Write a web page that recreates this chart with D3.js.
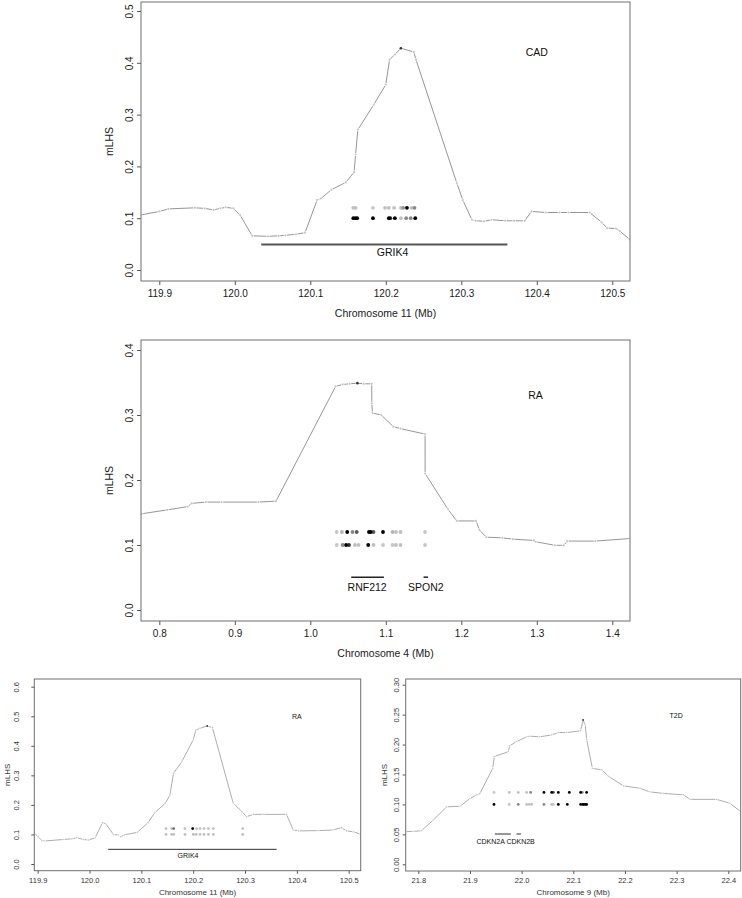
<!DOCTYPE html>
<html><head><meta charset="utf-8">
<script src="https://cdn.jsdelivr.net/npm/d3@7"></script>
<style>
html,body{margin:0;padding:0;background:#fff;}
svg{display:block;font-family:"Liberation Sans",Arial,Helvetica,sans-serif;}
</style></head>
<body><svg id="chart" width="742" height="898"></svg>
<script>
// ---------- DATA ----------
const rowLevels = [0.12, 0.10];

// Panel 1: CAD, chromosome 11
const cadPos = [119.875,119.9,119.912,119.947,119.96,119.972,119.981,119.988,119.998,120.007,120.023,120.044,120.058,120.067,120.081,120.093,120.109,120.114,120.128,120.147,120.158,120.160,120.163,120.184,120.200,120.205,120.212,120.220,120.237,120.240,120.294,120.302,120.314,120.319,120.330,120.340,120.358,120.370,120.384,120.393,120.412,120.430,120.442,120.470,120.486,120.493,120.505,120.510,120.523];
const cadLhs = [0.106,0.113,0.118,0.120,0.119,0.116,0.119,0.121,0.119,0.106,0.066,0.065,0.066,0.067,0.069,0.072,0.135,0.138,0.155,0.169,0.189,0.223,0.271,0.319,0.358,0.406,0.416,0.428,0.421,0.406,0.168,0.135,0.097,0.095,0.094,0.097,0.095,0.095,0.095,0.113,0.111,0.111,0.111,0.111,0.092,0.081,0.080,0.075,0.059];
const cadUpperPos = [120.157,120.160,120.183,120.199,120.204,120.211,120.220,120.223,120.228,120.234,120.238];
const cadUpperW   = [0.15,0.15,0.12,0.15,0.15,0.15,0.15,0.35,1,0.15,0.4];
const cadLowerPos = [120.157,120.160,120.162,120.183,120.204,120.206,120.212,120.220,120.227,120.233,120.239];
const cadLowerW   = [1,1,1,1,1,0.8,1,0.15,0.4,0.4,1];
const cadGenes = ["GRIK4"], cadGeneStart = [120.035], cadGeneEnd = [120.361], cadGeneLabelX = [120.209];
const cadXTicks = [119.9,120.0,120.1,120.2,120.3,120.4,120.5];
const cadYTicks = [0,0.1,0.2,0.3,0.4,0.5];

// Panel 2: RA, chromosome 4
const ra4Pos = [0.7766,0.8105,0.8374,0.843,0.8616,0.8825,0.9313,0.9546,1.0335,1.0428,1.0520,1.0624,1.0707,1.0814,1.0815,1.0824,1.0939,1.1102,1.1195,1.1520,1.1521,1.1823,1.1940,1.2196,1.2240,1.2333,1.2543,1.2682,1.2962,1.2985,1.3240,1.3357,1.3403,1.3775,1.4240];
const ra4Lhs = [0.148,0.154,0.159,0.164,0.166,0.166,0.166,0.1675,0.344,0.347,0.348,0.349,0.348,0.348,0.318,0.303,0.300,0.282,0.279,0.2706,0.210,0.155,0.137,0.137,0.123,0.112,0.111,0.109,0.107,0.105,0.0995,0.0995,0.106,0.106,0.110];
const ra4UpperPos = [1.0350,1.0419,1.0489,1.0559,1.0615,1.0777,1.0800,1.0837,1.0963,1.1089,1.1135,1.1195,1.1520];
const ra4UpperW   = [0.12,0.2,1,0.4,0.6,1,1,0.6,1,0.2,0.15,0.15,0.12];
const ra4LowerPos = [1.0350,1.0428,1.0474,1.0512,1.0591,1.0638,1.0767,1.0837,1.0963,1.1089,1.1135,1.1195,1.1520];
const ra4LowerW   = [0.12,0.4,1,0.8,0.15,0.15,1,0.15,0.12,0.12,0.15,0.15,0.12];
const ra4Genes = ["RNF212","SPON2"], ra4GeneStart = [1.0542,1.150], ra4GeneEnd = [1.0975,1.156], ra4GeneLabelX = [1.0753,1.153];
const ra4XTicks = [0.8,0.9,1.0,1.1,1.2,1.3,1.4];
const ra4YTicks = [0,0.1,0.2,0.3,0.4];

// Panel 3: RA, chromosome 11
const ra11Pos = [119.8936,119.901,119.908,119.914,119.950,119.966,119.975,119.988,119.998,120.011,120.025,120.032,120.046,120.056,120.060,120.068,120.092,120.113,120.126,120.146,120.155,120.162,120.178,120.200,120.205,120.213,120.227,120.237,120.277,120.294,120.303,120.316,120.335,120.380,120.393,120.403,120.441,120.470,120.486,120.496,120.509,120.523];
const ra11Lhs = [0.104,0.092,0.079,0.078,0.083,0.085,0.089,0.083,0.081,0.089,0.140,0.135,0.100,0.098,0.092,0.099,0.107,0.140,0.174,0.205,0.233,0.307,0.346,0.420,0.453,0.459,0.467,0.462,0.207,0.177,0.160,0.168,0.168,0.168,0.115,0.112,0.113,0.115,0.123,0.112,0.109,0.101];
const ra11UpperPos = [120.1476,120.1585,120.1624,120.1842,120.199,120.2067,120.2132,120.2209,120.2293,120.2389,120.2955];
const ra11UpperW   = [0.15,0.15,0.5,0.15,1,0.15,0.15,0.15,0.15,0.15,0.15];
const ra11LowerPos = [120.1476,120.1585,120.1624,120.1842,120.2003,120.2055,120.2132,120.2209,120.2293,120.2389,120.2955];
const ra11LowerW   = [0.15,0.15,0.15,0.15,0.18,0.15,0.15,0.15,0.15,0.15,0.15];
const ra11Genes = ["GRIK4"], ra11GeneStart = [120.036], ra11GeneEnd = [120.361], ra11GeneLabelX = [120.190];
const ra11XTicks = [119.9,120.0,120.1,120.2,120.3,120.4,120.5];
const ra11YTicks = [0,0.1,0.2,0.3,0.4,0.5,0.6];

// Panel 4: T2D, chromosome 9
const t2dPos = [21.7755,21.790,21.806,21.829,21.855,21.881,21.900,21.913,21.919,21.944,21.947,21.974,21.977,21.990,22.010,22.016,22.035,22.058,22.071,22.087,22.114,22.119,22.123,22.126,22.137,22.155,22.168,22.197,22.229,22.248,22.274,22.313,22.326,22.377,22.403,22.424];
const t2dLhs = [0.0545,0.055,0.056,0.074,0.096,0.097,0.110,0.116,0.118,0.160,0.180,0.188,0.198,0.205,0.213,0.214,0.213,0.216,0.220,0.220,0.223,0.241,0.233,0.208,0.160,0.158,0.147,0.131,0.127,0.121,0.1185,0.116,0.1085,0.1085,0.102,0.088];
const t2dUpperPos = [21.9465,21.9761,21.9935,22.0097,22.0174,22.0432,22.0581,22.0613,22.0710,22.0923,22.1142,22.1174,22.1258];
const t2dUpperW   = [0.12,0.15,0.15,0.15,0.4,1,1,0.7,1,1,1,0.4,1];
const t2dLowerPos = [21.9465,21.9761,21.9935,22.0097,22.0148,22.0194,22.0432,22.0581,22.0613,22.0710,22.0884,22.1142,22.1181,22.1206,22.1239,22.1258];
const t2dLowerW   = [1,0.15,0.4,0.15,0.15,0.15,0.4,0.15,0.15,1,1,1,1,1,1,1];
const t2dGenes = ["CDKN2A","CDKN2B"], t2dGeneStart = [21.948,21.990], t2dGeneEnd = [21.979,21.999], t2dGeneLabelX = [21.940,21.998];
const t2dXTicks = [21.8,21.9,22.0,22.1,22.2,22.3,22.4];
const t2dYTicks = [0,0.05,0.10,0.15,0.20,0.25,0.30];

// ---------- DRAWING ----------
const svg = d3.select("#chart");
const shade = d3.scaleLinear().domain([0,1]).range(["#e2e2e2","#000000"]);

function drawPanel(p, id) {
  const x = d3.scaleLinear().domain(p.xAnchor).range(p.xPix);
  const y = d3.scaleLinear().domain(p.yAnchor).range(p.yPix);
  const b = p.box;
  const g = svg.append("g");
  svg.append("clipPath").attr("id", "clip" + id)
    .append("rect").attr("x", b.l).attr("y", b.t).attr("width", b.r - b.l).attr("height", b.b - b.t);
  const inner = g.append("g").attr("clip-path", `url(#clip${id})`);

  // mLHS line drawn R "type=b" style: segments with gaps around points
  const pts = p.pos.map((v, i) => [v, p.lhs[i]]);
  const segs = d3.pairs(pts).map(([a, c]) => {
    const x1 = x(a[0]), y1 = y(a[1]), x2 = x(c[0]), y2 = y(c[1]);
    const len = Math.hypot(x2 - x1, y2 - y1);
    return {x1, y1, x2, y2, len};
  }).filter(s => s.len > 2 * p.gap + 0.5).map(s => {
    const ux = (s.x2 - s.x1) / s.len, uy = (s.y2 - s.y1) / s.len;
    return {x1: s.x1 + ux * p.gap, y1: s.y1 + uy * p.gap, x2: s.x2 - ux * p.gap, y2: s.y2 - uy * p.gap};
  });
  inner.selectAll("line.seg").data(segs).join("line")
    .attr("x1", d => d.x1).attr("y1", d => d.y1).attr("x2", d => d.x2).attr("y2", d => d.y2)
    .attr("stroke", "#8a8a8a").attr("stroke-width", p.lineW);
  const maxV = d3.max(p.lhs);
  inner.selectAll("circle.pt").data(pts).join("circle")
    .attr("cx", d => x(d[0])).attr("cy", d => y(d[1]))
    .attr("r", d => d[1] === maxV ? p.ptR * 1.2 : p.ptR)
    .attr("fill", d => d[1] === maxV ? "#333" : "#c4c4c4");

  // dot rows
  const rows = [[p.upPos, p.upW, rowLevels[0]], [p.loPos, p.loW, rowLevels[1]]];
  rows.forEach(([ps, ws, lv]) => {
    const dd = ps.map((v, i) => ({x: v, w: ws[i]})).sort((a, c) => a.w - c.w);
    inner.selectAll(null).data(dd).join("circle")
      .attr("cx", d => x(d.x)).attr("cy", y(lv)).attr("r", p.dotR)
      .attr("fill", d => shade(d.w));
  });

  // genes
  p.genes.forEach((name, i) => {
    g.append("line")
      .attr("x1", x(p.gStart[i])).attr("x2", x(p.gEnd[i]))
      .attr("y1", y(p.geneY)).attr("y2", y(p.geneY))
      .attr("stroke", p.geneColor).attr("stroke-width", p.geneW);
    g.append("text").attr("x", x(p.gLabelX[i])).attr("y", y(p.geneLabelY))
      .attr("dy", "0.35em").attr("text-anchor", "middle")
      .attr("font-size", p.labelFs).attr("fill", "#111").text(name);
  });

  // disease label
  g.append("text").attr("x", x(p.tag[1])).attr("y", y(p.tag[2]))
    .attr("dy", "0.35em").attr("text-anchor", "middle")
    .attr("font-size", p.labelFs).attr("fill", "#111").text(p.tag[0]);

  // x axis
  const xa = g.append("g").attr("transform", `translate(0,${b.b})`)
    .call(d3.axisBottom(x).tickValues(p.xTicks).tickFormat(d3.format(".1f"))
      .tickSize(p.tickLen).tickPadding(p.xPad));
  xa.select(".domain").remove();
  xa.attr("font-family", null);
  xa.selectAll("line").attr("stroke", "#555");
  xa.selectAll("text").attr("font-size", p.tickFs).attr("fill", p.textCol);

  // y axis
  const ya = g.append("g").attr("transform", `translate(${b.l},0)`)
    .call(d3.axisLeft(y).tickValues(p.yTicks).tickFormat(d3.format(p.yFmt)).tickSize(p.tickLen));
  ya.select(".domain").remove();
  ya.attr("font-family", null);
  ya.selectAll("line").attr("stroke", "#555");
  ya.selectAll("text").attr("transform", "rotate(-90)")
    .attr("x", 0).attr("y", -p.yLabDist).attr("dy", "0.35em")
    .attr("text-anchor", "middle").attr("font-size", p.tickFs).attr("fill", p.textCol);

  // frame
  g.append("rect").attr("x", b.l).attr("y", b.t).attr("width", b.r - b.l).attr("height", b.b - b.t)
    .attr("fill", "none").attr("stroke", "#6e6e6e").attr("stroke-width", 1);

  // axis titles
  g.append("text").attr("x", (b.l + b.r) / 2).attr("y", p.xTitleY).attr("dy", "0.35em")
    .attr("text-anchor", "middle").attr("font-size", p.titleFs).attr("fill", p.textCol).text(p.xTitle);
  g.append("text").attr("transform", `translate(${p.yTitleX},${(b.t + b.b) / 2}) rotate(-90)`)
    .attr("dy", "0.35em").attr("text-anchor", "middle")
    .attr("font-size", p.titleFs).attr("fill", p.textCol).text("mLHS");
}

const big = {lineW: 0.9, ptR: 1.1, gap: 1.6, dotR: 1.9, geneW: 2, geneColor: "#555", labelFs: 10.5, tickFs: 10, titleFs: 10.5,
             tickLen: 4, xPad: 5, yLabDist: 12, yFmt: ".1f", textCol: "#1a1a1a"};
const small = {lineW: 0.7, ptR: 0.8, gap: 1.2, dotR: 1.4, geneW: 1, geneColor: "#333", labelFs: 7, tickFs: 7.5, titleFs: 8,
             tickLen: 3, xPad: 4, textCol: "#333"};

drawPanel(Object.assign({}, big, {
  box: {l: 141, r: 630, t: 2, b: 281},
  xAnchor: [119.9, 120.5], xPix: [159.3, 612.3], yAnchor: [0, 0.5], yPix: [270, 11],
  pos: cadPos, lhs: cadLhs, upPos: cadUpperPos, upW: cadUpperW, loPos: cadLowerPos, loW: cadLowerW,
  genes: cadGenes, gStart: cadGeneStart, gEnd: cadGeneEnd, gLabelX: cadGeneLabelX, geneY: 0.049, geneLabelY: 0.034,
  tag: ["CAD", 120.40, 0.42], xTicks: cadXTicks, yTicks: cadYTicks,
  xTitle: "Chromosome 11 (Mb)", xTitleY: 313, yTitleX: 109
}), 1);

drawPanel(Object.assign({}, big, {
  geneColor: "#222", geneW: 1.5,
  box: {l: 141, r: 630, t: 340, b: 621},
  xAnchor: [0.8, 1.4], xPix: [159.3, 612.3], yAnchor: [0, 0.4], yPix: [610, 350],
  pos: ra4Pos, lhs: ra4Lhs, upPos: ra4UpperPos, upW: ra4UpperW, loPos: ra4LowerPos, loW: ra4LowerW,
  genes: ra4Genes, gStart: ra4GeneStart, gEnd: ra4GeneEnd, gLabelX: ra4GeneLabelX, geneY: 0.0505, geneLabelY: 0.035,
  tag: ["RA", 1.2984, 0.33], xTicks: ra4XTicks, yTicks: ra4YTicks,
  xTitle: "Chromosome 4 (Mb)", xTitleY: 653, yTitleX: 109
}), 2);

drawPanel(Object.assign({}, small, {
  yLabDist: 18, yFmt: ".1f",
  box: {l: 34.3, r: 360.7, t: 679, b: 870.7},
  xAnchor: [119.9, 120.5], xPix: [37.7, 348.7], yAnchor: [0, 0.6], yPix: [864, 686.7],
  pos: ra11Pos, lhs: ra11Lhs, upPos: ra11UpperPos, upW: ra11UpperW, loPos: ra11LowerPos, loW: ra11LowerW,
  genes: ra11Genes, gStart: ra11GeneStart, gEnd: ra11GeneEnd, gLabelX: ra11GeneLabelX, geneY: 0.0496, geneLabelY: 0.030,
  tag: ["RA", 120.40, 0.50], xTicks: ra11XTicks, yTicks: ra11YTicks,
  xTitle: "Chromosome 11 (Mb)", xTitleY: 892, yTitleX: 7
}), 3);

drawPanel(Object.assign({}, small, {
  yLabDist: 9.5, yFmt: ".2f",
  box: {l: 405.7, r: 740.7, t: 679, b: 871},
  xAnchor: [21.8, 22.4], xPix: [418.3, 728.3], yAnchor: [0, 0.3], yPix: [864.3, 684.7],
  pos: t2dPos, lhs: t2dLhs, upPos: t2dUpperPos, upW: t2dUpperW, loPos: t2dLowerPos, loW: t2dLowerW,
  genes: t2dGenes, gStart: t2dGeneStart, gEnd: t2dGeneEnd, gLabelX: t2dGeneLabelX, geneY: 0.0506, geneLabelY: 0.0378,
  tag: ["T2D", 22.299, 0.2477], xTicks: t2dXTicks, yTicks: t2dYTicks,
  xTitle: "Chromosome 9 (Mb)", xTitleY: 892, yTitleX: 384
}), 4);
</script>
</body></html>
